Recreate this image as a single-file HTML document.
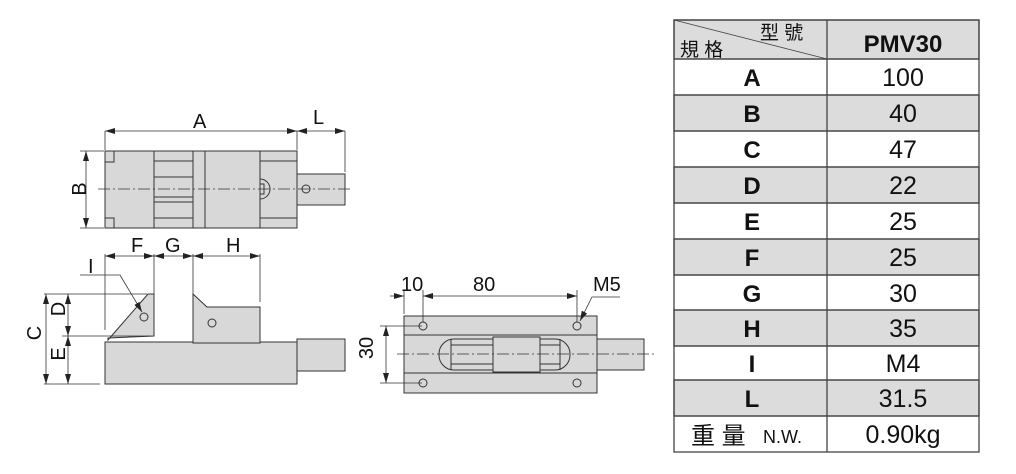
<!DOCTYPE html>
<html><head><meta charset="utf-8"><style>
html,body{margin:0;padding:0;background:#fff;}
svg{display:block;}
text{font-family:"Liberation Sans","Noto Sans CJK TC",sans-serif;fill:#111;}
</style></head><body>
<svg width="1016" height="474" viewBox="0 0 1016 474" xmlns="http://www.w3.org/2000/svg">
<defs>
<marker id="ar" viewBox="0 0 10 6" refX="10" refY="3" markerWidth="10" markerHeight="6" orient="auto-start-reverse" markerUnits="userSpaceOnUse"><path d="M0,0 L10,3 L0,6z" fill="#222"/></marker>
</defs>
<g stroke="#333" stroke-width="1" fill="#d8d8d8">
<rect x="105" y="151" width="192" height="77"/>
<rect x="297" y="174" width="48" height="31"/>
<line x1="154" y1="151" x2="154" y2="228"/>
<line x1="193" y1="151" x2="193" y2="228"/>
<line x1="205" y1="151" x2="205" y2="228"/>
<line x1="260" y1="151" x2="260" y2="228"/>
<line x1="154" y1="161" x2="193" y2="161"/>
<line x1="154" y1="177" x2="193" y2="177"/>
<line x1="154" y1="197" x2="193" y2="197"/>
<line x1="154" y1="202" x2="193" y2="202"/>
<line x1="154" y1="218" x2="193" y2="218"/>
<line x1="260" y1="161" x2="297" y2="161"/>
<line x1="260" y1="218" x2="297" y2="218"/>
<polyline points="105,162 114,162 114,151" fill="none"/>
<polyline points="105,218 114,218 114,228" fill="none"/>
<path d="M260,179 A10,10 0 0 1 260,199 Z"/>
<rect x="260" y="184" width="4" height="10"/>
<circle cx="306" cy="189" r="4" fill="none"/>
<rect x="105" y="342" width="192" height="42"/>
<rect x="297" y="339" width="48" height="32"/>
<polygon points="108,340 148,294 154,294 154,336 108,338"/>
<polygon points="193,294 207,307 260,307 260,343 193,343"/>
<circle cx="144" cy="317" r="4" fill="none"/>
<circle cx="212" cy="323" r="4" fill="none"/>
<rect x="404" y="316" width="193" height="77"/>
<rect x="597" y="339" width="47" height="31"/>
<line x1="404" y1="335" x2="597" y2="335"/>
<line x1="404" y1="373" x2="597" y2="373"/>
<rect x="439" y="339" width="131" height="31" rx="15"/>
<line x1="451" y1="345" x2="560" y2="345"/>
<line x1="451" y1="364" x2="560" y2="364"/>
<line x1="451" y1="339" x2="451" y2="370"/>
<line x1="560" y1="339" x2="560" y2="370"/>
<rect x="493" y="337" width="47" height="35"/>
<circle cx="423" cy="326" r="4" fill="none"/>
<circle cx="577" cy="326" r="4" fill="none"/>
<circle cx="423" cy="383" r="4" fill="none"/>
<circle cx="577" cy="383" r="4" fill="none"/>
</g>
<g stroke="#333" stroke-width="0.8" fill="none">
<line x1="98" y1="189" x2="352" y2="189" stroke-dasharray="12,3,2,3"/>
<line x1="397" y1="354" x2="655" y2="354" stroke-dasharray="12,3,2,3"/>
<line x1="105" y1="131" x2="105" y2="150"/>
<line x1="297" y1="131" x2="297" y2="150"/>
<line x1="345" y1="131" x2="345" y2="172"/>
<line x1="105" y1="131" x2="297" y2="131" marker-start="url(#ar)" marker-end="url(#ar)"/>
<line x1="297" y1="131" x2="345" y2="131" marker-start="url(#ar)" marker-end="url(#ar)"/>
<line x1="80" y1="151" x2="104" y2="151"/>
<line x1="80" y1="228" x2="104" y2="228"/>
<line x1="86" y1="151" x2="86" y2="228" marker-start="url(#ar)" marker-end="url(#ar)"/>
<line x1="105" y1="254" x2="105" y2="330"/>
<line x1="154" y1="254" x2="154" y2="295"/>
<line x1="193" y1="254" x2="193" y2="295"/>
<line x1="260" y1="254" x2="260" y2="302"/>
<line x1="105" y1="256" x2="154" y2="256" marker-start="url(#ar)" marker-end="url(#ar)"/>
<line x1="154" y1="256" x2="193" y2="256" marker-start="url(#ar)" marker-end="url(#ar)"/>
<line x1="193" y1="256" x2="260" y2="256" marker-start="url(#ar)" marker-end="url(#ar)"/>
<polyline points="80,275 120,275 142,312" marker-end="url(#ar)"/>
<line x1="44" y1="294" x2="147" y2="294"/>
<line x1="62" y1="336" x2="150" y2="336"/>
<line x1="44" y1="384" x2="100" y2="384"/>
<line x1="46" y1="294" x2="46" y2="384" marker-start="url(#ar)" marker-end="url(#ar)"/>
<line x1="68" y1="294" x2="68" y2="336" marker-start="url(#ar)" marker-end="url(#ar)"/>
<line x1="68" y1="336" x2="68" y2="384" marker-start="url(#ar)" marker-end="url(#ar)"/>
<line x1="404" y1="290" x2="404" y2="314"/>
<line x1="423" y1="290" x2="423" y2="322"/>
<line x1="577" y1="290" x2="577" y2="322"/>
<line x1="390" y1="296" x2="404" y2="296" marker-end="url(#ar)"/>
<line x1="423" y1="296" x2="577" y2="296" marker-start="url(#ar)" marker-end="url(#ar)"/>
<polyline points="620,297 592,297 580,321" marker-end="url(#ar)"/>
<line x1="380" y1="326" x2="422" y2="326"/>
<line x1="380" y1="383" x2="422" y2="383"/>
<line x1="386" y1="326" x2="386" y2="383" marker-start="url(#ar)" marker-end="url(#ar)"/>
</g>
<g font-size="20">
<text x="193" y="128">A</text>
<text x="313" y="124">L</text>
<text x="79" y="196" transform="rotate(-90 79 189)" text-anchor="middle">B</text>
<text x="131" y="252">F</text>
<text x="165" y="252">G</text>
<text x="226" y="252">H</text>
<text x="88" y="273">I</text>
<text x="40" y="346" transform="rotate(-90 34 339)" text-anchor="middle">C</text>
<text x="64" y="322" transform="rotate(-90 58 315)" text-anchor="middle">D</text>
<text x="64" y="367" transform="rotate(-90 58 360)" text-anchor="middle">E</text>
<text x="401" y="291">10</text>
<text x="473" y="291">80</text>
<text x="593" y="291">M5</text>
<text x="380" y="355" transform="rotate(-90 373 355)" text-anchor="middle">30</text>
</g>
<g stroke="#444" stroke-width="1.3">
<rect x="674" y="20" width="305" height="39" fill="#dcdcdc"/>
<rect x="674" y="95" width="305" height="36" fill="#dcdcdc"/>
<rect x="674" y="167" width="305" height="36" fill="#dcdcdc"/>
<rect x="674" y="239" width="305" height="36" fill="#dcdcdc"/>
<rect x="674" y="310" width="305" height="36" fill="#dcdcdc"/>
<rect x="674" y="380" width="305" height="36" fill="#dcdcdc"/>
<rect x="674" y="20" width="305" height="432" fill="none"/>
<line x1="827" y1="20" x2="827" y2="452"/>
<g fill="none">
<line x1="674" y1="59" x2="979" y2="59"/><line x1="674" y1="95" x2="979" y2="95"/>
<line x1="674" y1="131" x2="979" y2="131"/><line x1="674" y1="167" x2="979" y2="167"/>
<line x1="674" y1="203" x2="979" y2="203"/><line x1="674" y1="239" x2="979" y2="239"/>
<line x1="674" y1="275" x2="979" y2="275"/><line x1="674" y1="310" x2="979" y2="310"/>
<line x1="674" y1="346" x2="979" y2="346"/><line x1="674" y1="380" x2="979" y2="380"/>
<line x1="674" y1="416" x2="979" y2="416"/>
<line x1="674" y1="20" x2="827" y2="59" stroke-width="0.8"/>
</g>
</g>
<g font-size="19"><text x="760" y="39">型 號</text><text x="680" y="56">規 格</text></g>
<text x="903" y="52" font-size="24" font-weight="bold" text-anchor="middle">PMV30</text>
<g font-size="24" font-weight="bold" text-anchor="middle">
<text x="752" y="86">A</text><text x="752" y="122">B</text><text x="752" y="158">C</text>
<text x="752" y="194">D</text><text x="752" y="230">E</text><text x="752" y="266">F</text>
<text x="752" y="302">G</text><text x="752" y="337">H</text><text x="752" y="372">I</text>
<text x="752" y="407">L</text>
</g>
<g font-size="25" text-anchor="middle">
<text x="903" y="86">100</text><text x="903" y="122">40</text><text x="903" y="158">47</text>
<text x="903" y="194">22</text><text x="903" y="230">25</text><text x="903" y="266">25</text>
<text x="903" y="302">30</text><text x="903" y="337">35</text><text x="903" y="372">M4</text>
<text x="903" y="407">31.5</text><text x="903" y="443">0.90kg</text>
</g>
<text x="691" y="444" font-size="24">重 量</text>
<text x="763" y="443" font-size="18">N.W.</text>
</svg>
</body></html>
